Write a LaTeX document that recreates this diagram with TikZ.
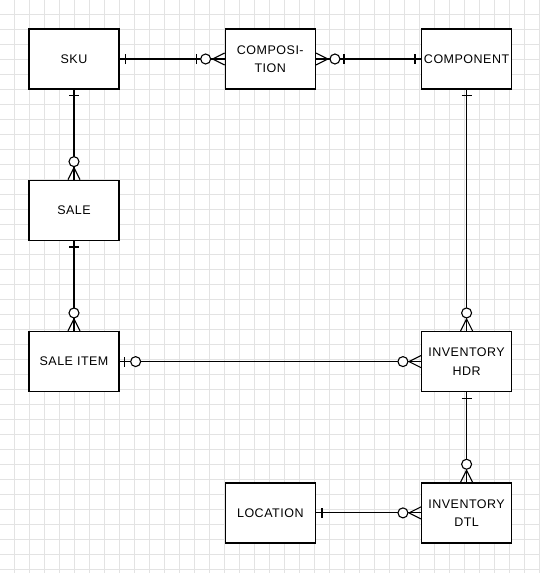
\documentclass[tikz,border=0pt]{standalone}
\usepackage{fontspec}
\setmainfont{Liberation Sans}[LetterSpace=4]
\usetikzlibrary{positioning, calc, decorations.markings}

\tikzset{
  gridline/.style={gray!22, line width=0.6pt},
  entity/.style={draw, line width=1.3pt, fill=white, minimum width=90pt, minimum height=60pt,
    align=center, inner sep=1pt, font=\fontsize{12.5}{18.5}\selectfont},
  link/.style={line width=1.1pt},
  % ends of the relations
  bar start/.style={postaction={decorate, decoration={markings, mark=at position 0 with {
    \draw[link] (6pt,-5pt) -- (6pt,5pt);}}}},
  bar circle start/.style={postaction={decorate, decoration={markings, mark=at position 0 with {
    \draw[link] (5pt,-5pt) -- (5pt,5pt);
    \draw[link, fill=white] (16pt,0pt) circle (5pt);}}}},
  crow circle end/.style={postaction={decorate, decoration={markings, mark=at position 1 with {
    \draw[link] (-12pt,0pt) -- (0pt,6pt) (-12pt,0pt) -- (0pt,-6pt);
    \draw[link, fill=white] (-18pt,0pt) circle (5pt);}}}},
  crow circle bar end/.style={postaction={decorate, decoration={markings, mark=at position 1 with {
    \draw[link] (-12pt,0pt) -- (0pt,6pt) (-12pt,0pt) -- (0pt,-6pt);
    \draw[link, fill=white] (-19pt,0pt) circle (5pt);
    \draw[link] (-28pt,-5pt) -- (-28pt,5pt);}}}}
}

\begin{document}
\begin{tikzpicture}[x=1pt, y=-1pt, node distance=90pt and 105pt]
        \useasboundingbox (0,0) rectangle (540,573);
        \fill[white] (0,0) rectangle (540,573);

        % background grid
        \foreach \gx in {14,29,...,539} {
            \draw[gridline] (\gx,0) -- (\gx,573);
        }
        \foreach \gy in {14,29,...,569} {
            \draw[gridline] (0,\gy) -- (540,\gy);
        }

        \node[entity] (sku) at (74,59) {SKU};
        \node[entity] (compo) [right=of sku] {COMPOSI-\\TION};
        \node[entity] (compon) [right=of compo] {COMPONENT};
        \node[entity] (sale) [below=of sku] {SALE};
        \node[entity] (saleitem) [below=of sale] {SALE ITEM};
        \node[entity] (invhdr) at (compon |- saleitem) {INVENTORY\\HDR};
        \node[entity] (invdtl) [below=of invhdr] {INVENTORY\\DTL};
        \node[entity] (loc) [left=of invdtl] {LOCATION};

        \draw[link, bar start, crow circle bar end] (sku) -- (compo);
        \draw[link, bar start, crow circle bar end] (compon) -- (compo);
        \draw[link, bar start, crow circle end] (sku) -- (sale);
        \draw[link, bar start, crow circle end] (sale) -- (saleitem);
        \draw[link, bar start, crow circle end] (compon) -- (invhdr);
        \draw[link, bar circle start, crow circle end] (saleitem) -- (invhdr);
        \draw[link, bar start, crow circle end] (invhdr) -- (invdtl);
        \draw[link, bar start, crow circle end] (loc) -- (invdtl);
    \end{tikzpicture}
\end{document}
